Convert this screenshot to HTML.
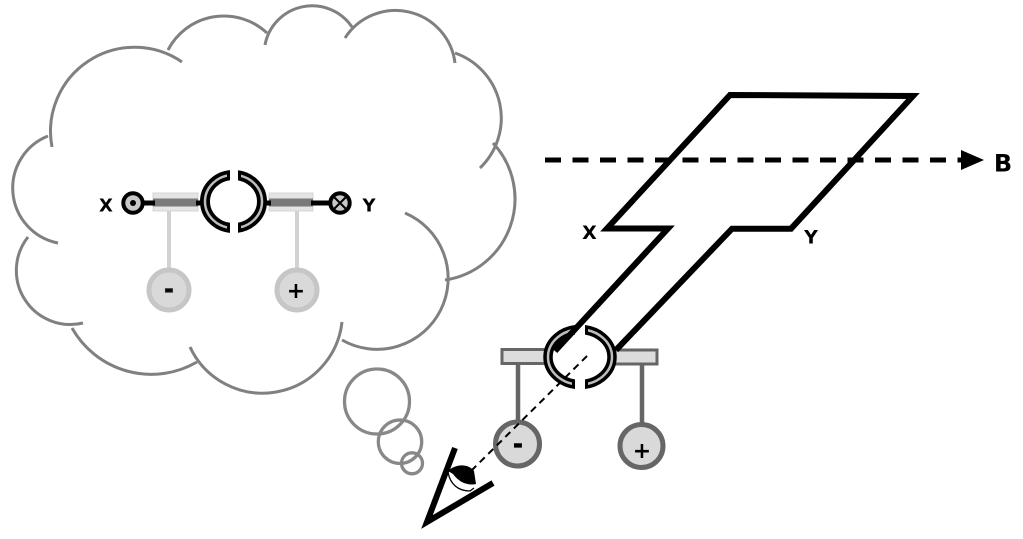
<!DOCTYPE html>
<html>
<head>
<meta charset="utf-8">
<style>
  html, body { margin: 0; padding: 0; background: #ffffff; }
  body { width: 1023px; height: 539px; overflow: hidden; }
  svg { display: block; }
  .lbl { font-family: "DejaVu Sans", "Liberation Sans", sans-serif; font-weight: bold; fill: #000; }
</style>
</head>
<body>
<svg width="1023" height="539" viewBox="0 0 1023 539" xmlns="http://www.w3.org/2000/svg">
  <defs>
    <clipPath id="cl1"><rect x="0" y="0" width="230" height="539"/></clipPath>
    <clipPath id="cr1"><rect x="238" y="0" width="200" height="539"/></clipPath>
    <clipPath id="cl1g"><rect x="0" y="0" width="227" height="539"/></clipPath>
    <clipPath id="cr1g"><rect x="241" y="0" width="200" height="539"/></clipPath>
    <clipPath id="cl2"><rect x="0" y="0" width="575" height="539"/></clipPath>
    <clipPath id="cr2"><rect x="585" y="0" width="200" height="539"/></clipPath>
    <clipPath id="cl2g"><rect x="0" y="0" width="572" height="539"/></clipPath>
    <clipPath id="cr2g"><rect x="588" y="0" width="200" height="539"/></clipPath>
  </defs>

  <rect x="0" y="0" width="1023" height="539" fill="#ffffff"/>

  <!-- Thought cloud -->
  <g fill="none" stroke="#808080" stroke-width="3">
    <path d="M58,243 A56,56 0 0 1 48,136"/>
    <path d="M52,147 A84,84 0 0 1 182,62"/>
    <path d="M168,50 A63,63 0 0 1 267,33"/>
    <path d="M265,45 A48,48 0 0 1 352,27"/>
    <path d="M345,38 A60,60 0 0 1 455,63"/>
    <path d="M455,53 A69,69 0 0 1 480,168"/>
    <path d="M493,143 A82,82 0 0 1 445,280"/>
    <path d="M405,213 A71,71 0 1 1 342,340"/>
    <path d="M342,322 A80,80 0 0 1 190,347"/>
    <path d="M197,362 A91,91 0 0 1 72,328"/>
    <path d="M83,323 A54,54 0 0 1 28,237"/>
  </g>

  <!-- Thought bubbles -->
  <g fill="none" stroke="#888888" stroke-width="3.3">
    <circle cx="377" cy="401.5" r="32.5"/>
    <circle cx="400" cy="441.7" r="21.7"/>
    <circle cx="412" cy="463.3" r="10.5"/>
  </g>

  <!-- Cloud diagram -->
  <g>
    <line x1="169" y1="211" x2="169" y2="268" stroke="#d2d2d2" stroke-width="4"/>
    <line x1="297" y1="211" x2="297" y2="268" stroke="#d2d2d2" stroke-width="4"/>
    <circle cx="169" cy="290" r="20" fill="#d9d9d9" stroke="#c6c6c6" stroke-width="5"/>
    <circle cx="297" cy="290" r="20" fill="#d9d9d9" stroke="#c6c6c6" stroke-width="5"/>
    <text class="lbl" x="169" y="297" font-size="22" text-anchor="middle" fill="#222" stroke="#222" stroke-width="1.2">-</text>
    <text class="lbl" x="296" y="298" font-size="22" text-anchor="middle" fill="#111">+</text>

    <rect x="153" y="193" width="45" height="18" fill="#e4e4e4" stroke="#d4d4d4" stroke-width="1"/>
    <rect x="153" y="198.5" width="45" height="8" fill="#7a7a7a"/>
    <rect x="269" y="193" width="44" height="18" fill="#e4e4e4" stroke="#d4d4d4" stroke-width="1"/>
    <rect x="269" y="198.5" width="44" height="8" fill="#7a7a7a"/>

    <line x1="142" y1="203" x2="155" y2="203" stroke="#000" stroke-width="5"/>
    <line x1="196" y1="203" x2="206" y2="203" stroke="#000" stroke-width="5"/>
    <line x1="260" y1="203" x2="271" y2="203" stroke="#000" stroke-width="5"/>
    <line x1="311" y1="203" x2="331" y2="203" stroke="#000" stroke-width="5"/>

    <circle cx="133" cy="203" r="9.7" fill="#c8c8c8" stroke="#000" stroke-width="4"/>
    <circle cx="133" cy="203" r="3" fill="#000"/>
    <circle cx="340" cy="203" r="9.7" fill="#c8c8c8" stroke="#000" stroke-width="4"/>
    <line x1="334.5" y1="197.5" x2="345.5" y2="208.5" stroke="#000" stroke-width="2"/>
    <line x1="345.5" y1="197.5" x2="334.5" y2="208.5" stroke="#000" stroke-width="2"/>

    <ellipse cx="233.5" cy="201.5" rx="28.5" ry="26.5" fill="none" stroke="#000" stroke-width="10" clip-path="url(#cl1)"/>
    <ellipse cx="233.5" cy="201.5" rx="28.5" ry="26.5" fill="none" stroke="#000" stroke-width="10" clip-path="url(#cr1)"/>
    <ellipse cx="233.5" cy="201.5" rx="28.5" ry="26.5" fill="none" stroke="#bdbdbd" stroke-width="2.5" clip-path="url(#cl1g)"/>
    <ellipse cx="233.5" cy="201.5" rx="28.5" ry="26.5" fill="none" stroke="#bdbdbd" stroke-width="2.5" clip-path="url(#cr1g)"/>

    <text class="lbl" x="106" y="211.7" font-size="18" text-anchor="middle">X</text>
    <text class="lbl" x="369" y="211.7" font-size="18" text-anchor="middle">Y</text>
  </g>

  <!-- Right apparatus -->
  <g>
    <line x1="518" y1="364" x2="518" y2="422" stroke="#666" stroke-width="4.5"/>
    <line x1="642" y1="364" x2="642" y2="424" stroke="#666" stroke-width="4.5"/>
    <circle cx="517.5" cy="444" r="22" fill="#d9d9d9" stroke="#666" stroke-width="5"/>
    <circle cx="641.5" cy="446" r="21.5" fill="#d9d9d9" stroke="#666" stroke-width="5"/>
    <text class="lbl" x="518" y="452" font-size="22" text-anchor="middle" stroke="#000" stroke-width="1.2">-</text>
    <text class="lbl" x="642" y="458" font-size="22" text-anchor="middle">+</text>

    <rect x="502" y="349.5" width="46" height="14" fill="#dcdcdc" stroke="#666" stroke-width="3"/>
    <rect x="612" y="350" width="45" height="14" fill="#dcdcdc" stroke="#666" stroke-width="3"/>

    <ellipse cx="580" cy="357" rx="32" ry="27.5" fill="none" stroke="#000" stroke-width="9.5" clip-path="url(#cl2)"/>
    <ellipse cx="580" cy="357" rx="32" ry="27.5" fill="none" stroke="#000" stroke-width="9.5" clip-path="url(#cr2)"/>
    <ellipse cx="580" cy="357" rx="32" ry="27.5" fill="none" stroke="#bdbdbd" stroke-width="2.5" clip-path="url(#cl2g)"/>
    <ellipse cx="580" cy="357" rx="32" ry="27.5" fill="none" stroke="#bdbdbd" stroke-width="2.5" clip-path="url(#cr2g)"/>
  </g>

  <!-- Z-shaped loop -->
  <polyline points="555,351 668,228.5 607,228.5 730,95 913,96 791,228.7 732,228.7 616,350"
            fill="none" stroke="#000" stroke-width="6" stroke-linejoin="miter" stroke-miterlimit="10"/>

  <!-- B field dashed arrow -->
  <line x1="545" y1="160" x2="962" y2="160" stroke="#000" stroke-width="5" stroke-dasharray="16 11.5"/>
  <polygon points="961,150 984,160 961,170" fill="#000"/>
  <text class="lbl" x="1003" y="171.5" font-size="24" text-anchor="middle">B</text>

  <text class="lbl" x="589.5" y="239" font-size="19" text-anchor="middle">X</text>
  <text class="lbl" x="811" y="243.3" font-size="19" text-anchor="middle">Y</text>

  <!-- Line of sight -->
  <line x1="587" y1="356" x2="472" y2="470" stroke="#000" stroke-width="2" stroke-dasharray="7 5"/>

  <!-- Eye -->
  <polyline points="455,448 427,522 493,483" fill="none" stroke="#000" stroke-width="6" stroke-linejoin="miter" stroke-miterlimit="10"/>
  <path d="M448,472 C450,484 458,491 470,491 L474,488" fill="#fff" stroke="#000" stroke-width="1.3"/>
  <path d="M448,471 C455,464 468,463 474,471 L476,484 C466,486 458,481 453,474 Z" fill="#000"/>
</svg>
</body>
</html>
